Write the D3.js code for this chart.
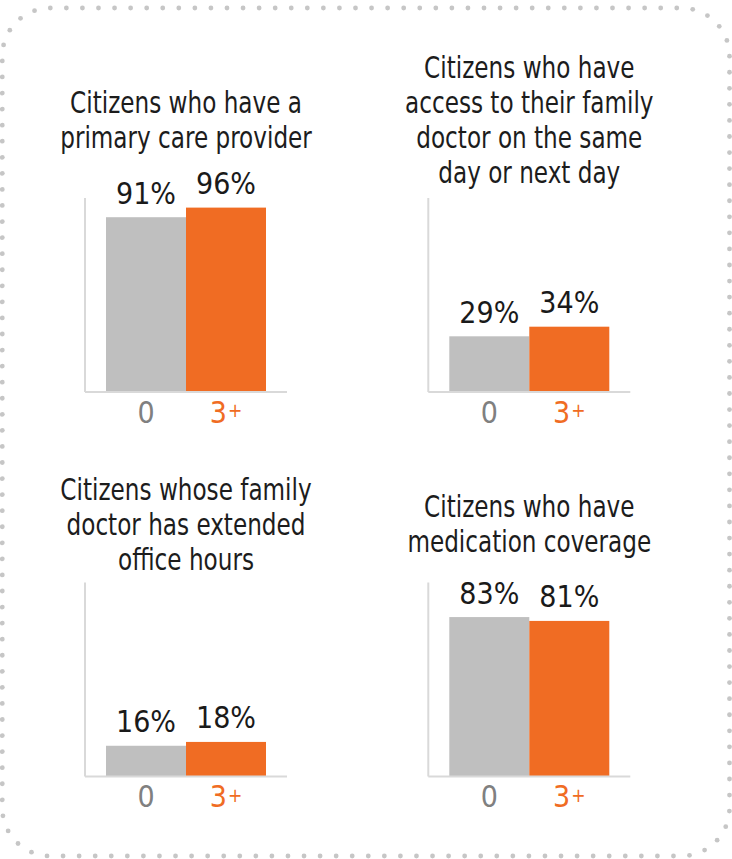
<!DOCTYPE html>
<html>
<head>
<meta charset="utf-8">
<script src="https://cdn.jsdelivr.net/npm/d3@7"></script>
<style>
  html, body { margin: 0; padding: 0; background: #ffffff; }
  svg { display: block; }
</style>
</head>
<body>
<div id="chart"></div>
<script>
// Patient groups compared in every panel
const categories = ["0", "3+"];

// Panel titles, one array of wrapped lines per panel
const titleLines = [
  ["Citizens who have a", "primary care provider"],
  ["Citizens who have", "access to their family", "doctor on the same", "day or next day"],
  ["Citizens whose family", "doctor has extended", "office hours"],
  ["Citizens who have", "medication coverage"]
];

// Share of citizens (%) for each group, in panel order
const valuesGroup0 = [91, 29, 16, 83];
const valuesGroup3 = [96, 34, 18, 81];

const W = 732, H = 859;
const colors = { "0": "#bfbfbf", "3+": "#f06c23" };
const labelColors = { "0": "#808080", "3+": "#f06c23" };
const font = "'DejaVu Sans Condensed', 'DejaVu Sans', sans-serif";
const titleSquash = 0.83;

const svg = d3.select("#chart").append("svg")
  .attr("width", W).attr("height", H);

// Dotted rounded frame: dots placed at even steps along a rounded-rect path
const fx = 2.3, fy = 8, fw = 727.2, fh = 848, fr = 48;
const framePath = d3.path();
framePath.moveTo(fx + fr, fy);
framePath.lineTo(fx + fw - fr, fy);
framePath.arcTo(fx + fw, fy, fx + fw, fy + fr, fr);
framePath.lineTo(fx + fw, fy + fh - fr);
framePath.arcTo(fx + fw, fy + fh, fx + fw - fr, fy + fh, fr);
framePath.lineTo(fx + fr, fy + fh);
framePath.arcTo(fx, fy + fh, fx, fy + fh - fr, fr);
framePath.lineTo(fx, fy + fr);
framePath.arcTo(fx, fy, fx + fr, fy, fr);
framePath.closePath();

const guide = svg.append("path").attr("d", framePath.toString())
  .attr("fill", "none").attr("stroke", "none");
const total = guide.node().getTotalLength();
const nDots = Math.round(total / 16.1);
const step = total / nDots;
const dots = d3.range(nDots).map(k => guide.node().getPointAtLength(k * step));
svg.append("g").selectAll("circle").data(dots).join("circle")
  .attr("cx", d => d.x).attr("cy", d => d.y).attr("r", 2.4)
  .attr("fill", "#c6c6c6");

// Grid of four small bar charts
const colLeft = [85, 428.3];
const rowBase = [392, 776.5];
const titleMid = [130.5, 535];
const plotW = 202, plotH = 194, lineGap = 35;

const panels = titleLines.map((lines, i) => ({
  lines,
  values: [
    { cat: categories[0], v: valuesGroup0[i] },
    { cat: categories[1], v: valuesGroup3[i] }
  ],
  col: i % 2,
  row: Math.floor(i / 2)
}));

const x = d3.scaleBand().domain(categories).range([0, plotW])
  .paddingInner(0).paddingOuter(0.2625);
const y = d3.scaleLinear().domain([0, 101]).range([plotH, 0]);

panels.forEach(p => {
  const g = svg.append("g")
    .attr("transform", `translate(${colLeft[p.col]},${rowBase[p.row] - plotH})`);

  // title, vertically centred on the row's title band, set in a condensed cut
  const first = titleMid[p.row] - (p.lines.length - 1) * lineGap / 2;
  const cx = colLeft[p.col] + plotW / 2;
  const t = svg.append("text")
    .attr("transform", `translate(${cx},0) scale(${titleSquash},1)`)
    .attr("text-anchor", "middle")
    .attr("font-family", font)
    .attr("font-size", 31)
    .attr("fill", "#1c1c1c");
  p.lines.forEach((ln, k) => {
    t.append("tspan")
      .attr("x", 0)
      .attr("y", first + k * lineGap)
      .text(ln);
  });

  // bars
  g.selectAll("rect.bar").data(p.values).join("rect")
    .attr("class", "bar")
    .attr("x", d => x(d.cat))
    .attr("width", x.bandwidth())
    .attr("y", d => y(d.v))
    .attr("height", d => y(0) - y(d.v))
    .attr("fill", d => colors[d.cat]);

  // axis lines
  g.append("line")
    .attr("x1", 0).attr("x2", 0)
    .attr("y1", y.range()[1]).attr("y2", y(0))
    .attr("stroke", "#d9d9d9").attr("stroke-width", 2);
  g.append("line")
    .attr("x1", 0).attr("x2", plotW)
    .attr("y1", y(0)).attr("y2", y(0))
    .attr("stroke", "#d9d9d9").attr("stroke-width", 2);

  // value labels
  g.selectAll("text.val").data(p.values).join("text")
    .attr("class", "val")
    .attr("x", d => x(d.cat) + x.bandwidth() / 2)
    .attr("y", d => y(d.v) - 13.5)
    .attr("text-anchor", "middle")
    .attr("font-family", font)
    .attr("font-size", 30)
    .attr("fill", "#1a1a1a")
    .text(d => d.v + "%");

  // category labels; a trailing "+" is set smaller and raised
  const cats = g.selectAll("text.cat").data(categories).join("text")
    .attr("class", "cat")
    .attr("x", d => x(d) + x.bandwidth() / 2)
    .attr("y", y(0) + 30.5)
    .attr("text-anchor", "middle")
    .attr("font-family", font)
    .attr("font-size", 30)
    .attr("fill", d => labelColors[d]);
  cats.append("tspan").text(d => d.replace(/\+$/, ""));
  cats.filter(d => d.endsWith("+")).append("tspan")
    .attr("font-size", 19)
    .attr("dx", 1)
    .attr("dy", -5.5)
    .text("+");
});
</script>
</body>
</html>
